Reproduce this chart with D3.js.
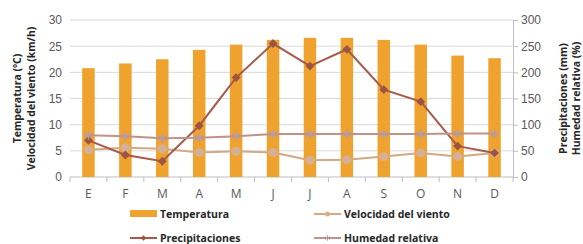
<!DOCTYPE html>
<html>
<head>
<meta charset="utf-8">
<script src="https://cdnjs.cloudflare.com/ajax/libs/d3/7.8.5/d3.min.js"></script>
<style>
  body { margin: 0; background: #fff; }
  svg { font-family: "Open Sans", "Liberation Sans", sans-serif; }
  .tick text { fill: #595959; font-size: 12px; }
  .axis-title { font-weight: bold; font-size: 10.5px; fill: #262626; }
  .legend text { font-weight: bold; font-size: 10.5px; fill: #262626; }
</style>
</head>
<body>
<div id="chart"></div>
<script>
// Data
const months = ["E", "F", "M", "A", "M", "J", "J", "A", "S", "O", "N", "D"];
const temperatura = [20.8, 21.7, 22.5, 24.3, 25.3, 26.2, 26.6, 26.6, 26.2, 25.3, 23.2, 22.7];
const velocidadViento = [5.2, 5.6, 5.4, 4.7, 4.9, 4.7, 3.2, 3.3, 3.9, 4.6, 3.9, 4.6];
const precipitaciones = [70, 42, 30, 98, 190, 255, 212, 244, 167, 144, 59, 46];
const humedad = [80, 78, 74, 75, 78, 82, 82, 82, 82, 82, 83, 83];
const leftTicks = [0, 5, 10, 15, 20, 25, 30];
const rightTicks = [0, 50, 100, 150, 200, 250, 300];

// Dimensions
const W = 583, H = 244;
const margin = {top: 20, right: 70, bottom: 67, left: 70};
const width = W - margin.left - margin.right;
const height = H - margin.top - margin.bottom;

const svg = d3.select("#chart")
    .append("svg")
    .attr("width", W)
    .attr("height", H);

const g = svg.append("g")
    .attr("transform", `translate(${margin.left},${margin.top})`);

// Scales
const idx = months.map((d, i) => i);
const x = d3.scaleBand()
    .domain(idx)
    .range([0, width])
    .padding(0);

const yLeft = d3.scaleLinear().domain([0, 30]).range([height, 0]);
const yRight = d3.scaleLinear().domain([0, 300]).range([height, 0]);

// Gridlines
g.append("g")
    .selectAll("line")
    .data(leftTicks.slice(1))
    .enter()
    .append("line")
    .attr("x1", 0)
    .attr("x2", width)
    .attr("y1", d => yLeft(d))
    .attr("y2", d => yLeft(d))
    .attr("stroke", "#d9d9d9")
    .attr("stroke-width", 1);

// Left axis (labels only)
const leftAxis = g.append("g")
    .call(d3.axisLeft(yLeft).tickValues(leftTicks).tickSize(0).tickPadding(8));
leftAxis.select(".domain").remove();

// Right axis
const rightAxis = g.append("g")
    .attr("transform", `translate(${width},0)`)
    .call(d3.axisRight(yRight).tickValues(rightTicks).tickSize(5).tickPadding(3));
rightAxis.select(".domain").attr("stroke", "#bfbfbf");
rightAxis.selectAll(".tick line").attr("stroke", "#bfbfbf");

// Bottom axis: line with ticks between categories
const bottom = g.append("g").attr("transform", `translate(0,${height})`);
bottom.append("line")
    .attr("x1", 0).attr("x2", width)
    .attr("stroke", "#bfbfbf");
bottom.selectAll(".sep")
    .data(d3.range(months.length + 1))
    .enter()
    .append("line")
    .attr("x1", d => d * x.step())
    .attr("x2", d => d * x.step())
    .attr("y1", 0)
    .attr("y2", 5)
    .attr("stroke", "#bfbfbf");
bottom.selectAll("text")
    .data(months)
    .enter()
    .append("text")
    .attr("x", (d, i) => x(i) + x.bandwidth() / 2)
    .attr("y", 21)
    .attr("text-anchor", "middle")
    .attr("fill", "#595959")
    .attr("font-size", "12px")
    .text(d => d);

// Bars
const barW = 12.5;
g.selectAll(".bar")
    .data(temperatura)
    .enter()
    .append("rect")
    .attr("x", (d, i) => x(i) + x.bandwidth() / 2 - barW / 2)
    .attr("y", d => yLeft(d))
    .attr("width", barW)
    .attr("height", d => height - yLeft(d))
    .attr("fill", "#f0a22e");

const cx = i => x(i) + x.bandwidth() / 2;

// Wind speed line
const windColor = "#d3a983";
g.append("path")
    .datum(velocidadViento)
    .attr("fill", "none")
    .attr("stroke", windColor)
    .attr("stroke-width", 2)
    .attr("d", d3.line().x((d, i) => cx(i)).y(d => yLeft(d)));
g.selectAll(".wind")
    .data(velocidadViento)
    .enter()
    .append("circle")
    .attr("cx", (d, i) => cx(i))
    .attr("cy", d => yLeft(d))
    .attr("r", 4.5)
    .attr("fill", "#d6b095");

// Precipitation line
const precColor = "#a8594a";
g.append("path")
    .datum(precipitaciones)
    .attr("fill", "none")
    .attr("stroke", precColor)
    .attr("stroke-width", 2)
    .attr("d", d3.line().x((d, i) => cx(i)).y(d => yRight(d)));
g.selectAll(".prec")
    .data(precipitaciones)
    .enter()
    .append("path")
    .attr("transform", (d, i) => `translate(${cx(i)},${yRight(d)})`)
    .attr("d", d3.symbol(d3.symbolDiamond2, 50))
    .attr("fill", "#9c5443");

// Humidity line
const humColor = "#c2918a";
g.append("path")
    .datum(humedad)
    .attr("fill", "none")
    .attr("stroke", humColor)
    .attr("stroke-width", 2)
    .attr("d", d3.line().x((d, i) => cx(i)).y(d => yRight(d)));
g.selectAll(".hum")
    .data(humedad)
    .enter()
    .append("path")
    .attr("transform", (d, i) => `translate(${cx(i)},${yRight(d)})`)
    .attr("d", d3.symbol(d3.symbolAsterisk, 60))
    .attr("fill", "none")
    .attr("stroke", "#b49ca6")
    .attr("stroke-width", 1.3);

// Axis titles
const leftTitle = svg.append("text")
    .attr("class", "axis-title")
    .attr("text-anchor", "middle")
    .attr("transform", `translate(21,${margin.top + height / 2}) rotate(-90)`);
leftTitle.append("tspan").attr("x", 0).attr("dy", 0).text("Temperatura (ºC)");
leftTitle.append("tspan").attr("x", 0).attr("dy", 14).text("Velocidad del viento (km/h)");

const rightTitle = svg.append("text")
    .attr("class", "axis-title")
    .attr("text-anchor", "middle")
    .attr("transform", `translate(567,${margin.top + height / 2}) rotate(-90)`);
rightTitle.append("tspan").attr("x", 0).attr("dy", 0).text("Precipitaciones (mm)");
rightTitle.append("tspan").attr("x", 0).attr("dy", 13).text("Humedad relativa (%)");

// Legend
const legend = svg.append("g").attr("class", "legend");
const items = [
    {name: "Temperatura", type: "bar", x: 130, y: 214},
    {name: "Velocidad del viento", type: "wind", x: 314, y: 214},
    {name: "Precipitaciones", type: "prec", x: 130, y: 238},
    {name: "Humedad relativa", type: "hum", x: 314, y: 238}
];
items.forEach(it => {
    const lg = legend.append("g").attr("transform", `translate(${it.x},${it.y})`);
    if (it.type === "bar") {
        lg.append("rect").attr("x", 0).attr("y", -4).attr("width", 27).attr("height", 7).attr("fill", "#f0a22e");
    } else {
        const col = it.type === "wind" ? windColor : it.type === "prec" ? precColor : humColor;
        lg.append("line").attr("x1", 0).attr("x2", 27).attr("stroke", col).attr("stroke-width", 2);
        if (it.type === "wind") {
            lg.append("circle").attr("cx", 13.5).attr("r", 2.5).attr("fill", "#d6b095");
        } else if (it.type === "prec") {
            lg.append("path").attr("transform", "translate(13.5,0)").attr("d", d3.symbol(d3.symbolDiamond2, 20)).attr("fill", "#9c5443");
        } else {
            lg.append("path").attr("transform", "translate(13.5,0)").attr("d", d3.symbol(d3.symbolAsterisk, 20)).attr("fill", "none").attr("stroke", "#b49ca6");
        }
    }
    lg.append("text").attr("x", 30).attr("y", 4).text(it.name);
});
</script>
</body>
</html>
